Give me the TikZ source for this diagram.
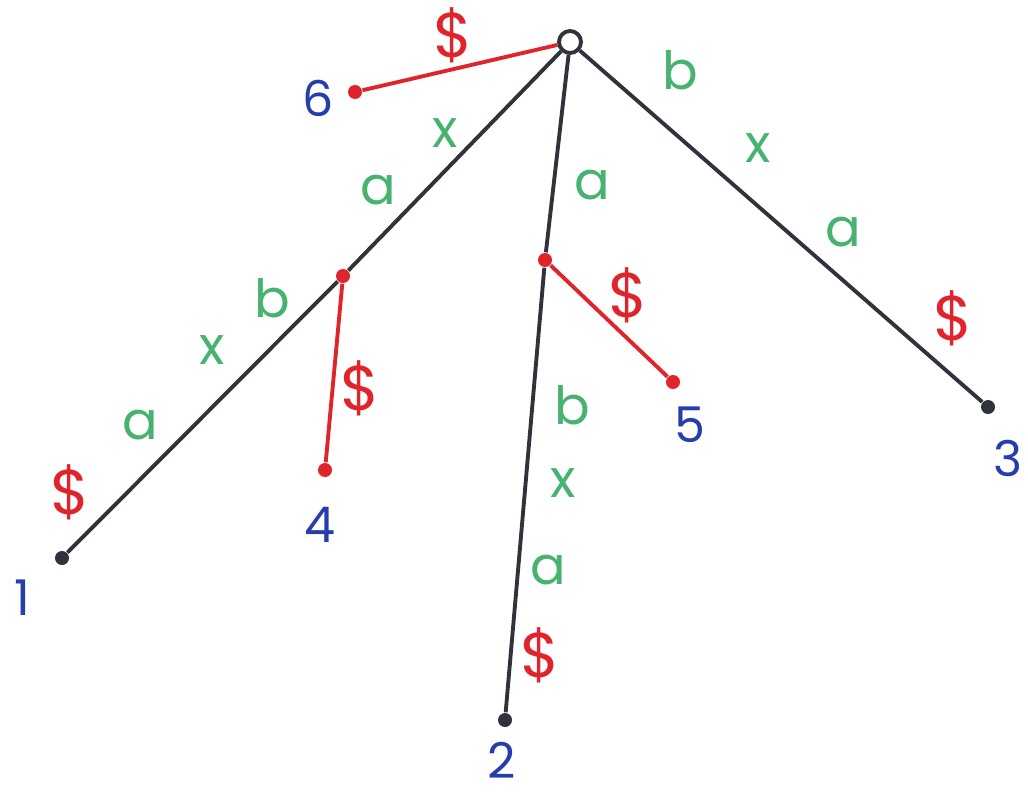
\documentclass[tikz,border=0pt]{standalone}
\usepackage{fontspec}
\setmainfont{Poppins}
\usetikzlibrary{positioning,calc}
\definecolor{edgeblk}{RGB}{48,50,60}
\definecolor{sred}{RGB}{224,36,44}
\definecolor{lgreen}{RGB}{72,178,112}
\definecolor{lblue}{RGB}{38,62,172}

\begin{document}
\begin{tikzpicture}[x=0.01cm,y=-0.01cm, every node/.style={font=\fontsize{15}{17}\selectfont},
  dot/.style={circle,fill,inner sep=0pt,minimum size=0.14cm},
  chr/.style={text=lgreen},
  dol/.style={text=sred,font=\fontsize{18}{20}\selectfont},
  num/.style={text=lblue,inner sep=1pt,font=\fontsize{14}{16}\selectfont},
  tedge/.style={draw=edgeblk,line width=1.1pt},
  redge/.style={draw=sred,line width=1.1pt}]
\useasboundingbox (0,0) rectangle (1028,791);
% root and inner nodes
\node[circle,draw=edgeblk,line width=1.1pt,minimum size=0.22cm,inner sep=0pt] (root) at (570,42) {};
\node[dot,sred] (u) at (343,276) {};
\node[dot,sred] (v) at (545,260) {};
% leaves
\node[dot,edgeblk] (l1) at (62,558) {};
\node[dot,edgeblk] (l2) at (505,720) {};
\node[dot,edgeblk] (l3) at (988,407) {};
\node[dot,sred] (l4) at (325,470) {};
\node[dot,sred] (l5) at (673,382) {};
\node[dot,sred] (l6) at (355,92) {};
% edges
\draw[tedge] (root) -- (u) -- (l1);
\draw[tedge] (root) -- (v) -- (l2);
\draw[tedge] (root) -- (l3);
\draw[redge] (root) -- (l6);
\draw[redge] (u) -- (l4);
\draw[redge] (v) -- (l5);
% edge labels
\foreach \x/\y/\c in {445/133/x,378/190/a,272/298/b,212/350/x,140/425/a,
  592/185/a,572/405/b,563/483/x,548/570/a,680/70/b,758/148/x,843/232/a}
  \node[chr] (c\x) at (\x,\y) {\c};
\foreach \x/\y in {453/35,70/492,360/388,540/655,628/295,953/318}
  \node[dol] (d\x) at (\x,\y) {\$};
% leaf numbers
\foreach \x/\y/\n in {22/598/1,502/760/2,1008/458/3,320/525/4,690/425/5,318/98/6}
  \node[num] (n\n) at (\x,\y) {\n};
\end{tikzpicture}
\end{document}
